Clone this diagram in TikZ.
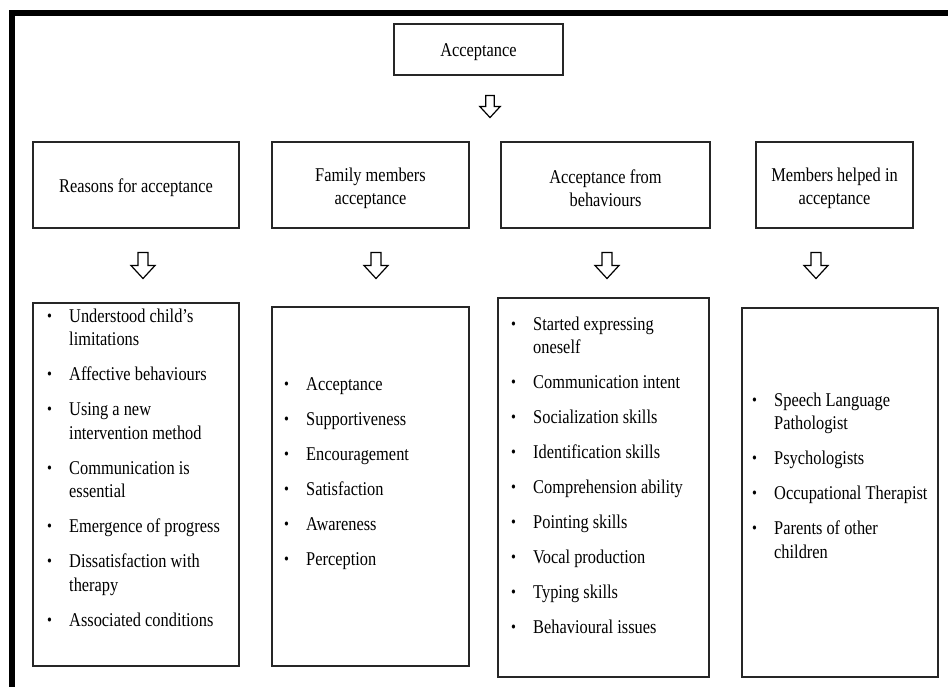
\documentclass[tikz,border=0pt]{standalone}
\usepackage{fontspec}
\setmainfont{Liberation Serif}[FakeStretch=0.84]
\usepackage{array}
\usepackage{graphicx}

\tikzset{
  frameline/.style={line width=5.5pt, line join=miter, black},
  box/.style={draw=black!85, line width=1.3pt, inner sep=0pt, rectangle},
  boxtext/.style={inner sep=0pt, align=center, font=\fontsize{19.5}{23}\selectfont},
  listtext/.style={inner sep=0pt, anchor=base west, font=\fontsize{19.5}{23.5}\selectfont},
  downarrow/.pic={
    \draw[line width=1.2pt, line join=miter, fill=white]
      (-5,-13) -- (5,-13) -- (5,0) -- (12,0) -- (0,13) -- (-12,0) -- (-5,0) -- cycle;
  }
}

% bulleted list set as a top-aligned table: bullet column + text column
\newcommand{\bl}{\raisebox{0.04em}{\scalebox{0.85}{\textbullet}}}
\newenvironment{blist}{\begin{tabular}[t]{@{}p{22pt}@{}l@{}}}{\end{tabular}}

\begin{document}
\begin{tikzpicture}[x=1pt, y=-1pt]
  \useasboundingbox (0,0) rectangle (948,686);
  \fill[white] (0,0) rectangle (948,686);

  % heavy frame running off the right and bottom edges
  \draw[frameline] (12,700) -- (12,12.75) -- (960,12.75);

  % top concept
  \node[box, minimum width=169pt, minimum height=51pt] (top) at (478.5,49.5) {};
  \node[boxtext, yshift=-3pt] (toptext) at (top.center) {Acceptance};

  % theme headers
  \node[box, minimum width=206pt, minimum height=86pt] (h1) at (136,185) {};
  \node[box, minimum width=197pt, minimum height=86pt] (h2) at (370.5,185) {};
  \node[box, minimum width=209pt, minimum height=86pt] (h3) at (605.5,185) {};
  \node[box, minimum width=157pt, minimum height=86pt] (h4) at (834.5,185) {};
  \node[boxtext, yshift=-3pt] (h1text) at (h1.center) {Reasons for acceptance};
  \node[boxtext, yshift=-3pt] (h2text) at (h2.center) {Family members\\acceptance};
  \node[boxtext, yshift=-3pt] (h3text) at (h3.center) {Acceptance from\\behaviours};
  \node[boxtext, yshift=-3pt] (h4text) at (h4.center) {Members helped in\\acceptance};

  % sub-theme boxes
  \node[box, minimum width=206pt, minimum height=363pt] (l1) at (136,484.5) {};
  \node[box, minimum width=197pt, minimum height=359pt] (l2) at (370.5,486.5) {};
  \node[box, minimum width=211pt, minimum height=379pt] (l3) at (603.5,487.5) {};
  \node[box, minimum width=196pt, minimum height=369pt] (l4) at (840,492.5) {};

  \node[listtext] (l1text) at (47,322) {\begin{blist}
    \bl & Understood child’s\\
        & limitations\\[11.5pt]
    \bl & Affective behaviours\\[11.5pt]
    \bl & Using a new\\
        & intervention method\\[11.5pt]
    \bl & Communication is\\
        & essential\\[11.5pt]
    \bl & Emergence of progress\\[11.5pt]
    \bl & Dissatisfaction with\\
        & therapy\\[11.5pt]
    \bl & Associated conditions
  \end{blist}};

  \node[listtext] (l2text) at (284,390) {\begin{blist}
    \bl & Acceptance\\[11.5pt]
    \bl & Supportiveness\\[11.5pt]
    \bl & Encouragement\\[11.5pt]
    \bl & Satisfaction\\[11.5pt]
    \bl & Awareness\\[11.5pt]
    \bl & Perception
  \end{blist}};

  \node[listtext] (l3text) at (511,330) {\begin{blist}
    \bl & Started expressing\\
        & oneself\\[11.5pt]
    \bl & Communication intent\\[11.5pt]
    \bl & Socialization skills\\[11.5pt]
    \bl & Identification skills\\[11.5pt]
    \bl & Comprehension ability\\[11.5pt]
    \bl & Pointing skills\\[11.5pt]
    \bl & Vocal production\\[11.5pt]
    \bl & Typing skills\\[11.5pt]
    \bl & Behavioural issues
  \end{blist}};

  \node[listtext] (l4text) at (752,406) {\begin{blist}
    \bl & Speech Language\\
        & Pathologist\\[11.5pt]
    \bl & Psychologists\\[11.5pt]
    \bl & Occupational Therapist\\[11.5pt]
    \bl & Parents of other\\
        & children
  \end{blist}};

  % block arrows between the levels
  \coordinate (a0) at (490,106.5);
  \coordinate (a1) at (143,265.5);
  \coordinate (a2) at (376,265.5);
  \coordinate (a3) at (607,265.5);
  \coordinate (a4) at (816,265.5);
  \pic[scale=0.85] at (a0) {downarrow};
  \pic at (a1) {downarrow};
  \pic at (a2) {downarrow};
  \pic at (a3) {downarrow};
  \pic at (a4) {downarrow};
\end{tikzpicture}
\end{document}
